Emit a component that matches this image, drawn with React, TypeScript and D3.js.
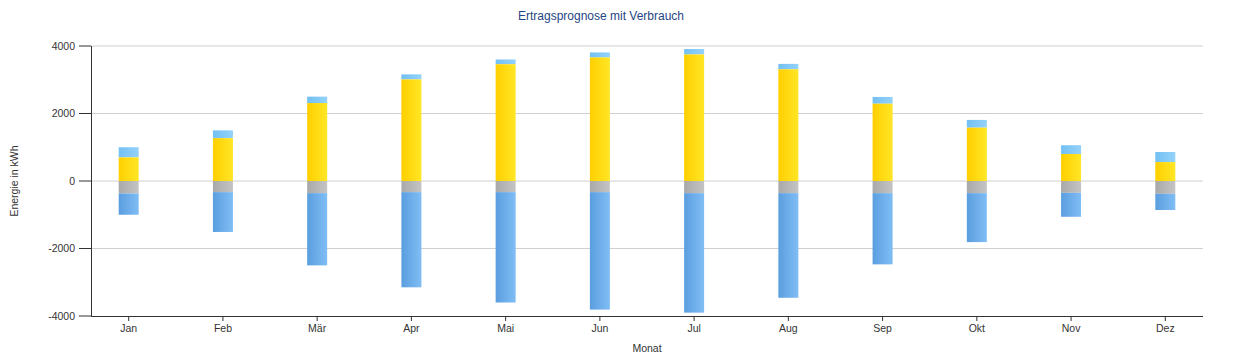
import React from 'react';
import * as d3 from 'd3';

const months = ['Jan', 'Feb', 'Mär', 'Apr', 'Mai', 'Jun', 'Jul', 'Aug', 'Sep', 'Okt', 'Nov', 'Dez'];
// positive stack: yellow part and total (yellow + light blue)
const yieldYellow = [700, 1270, 2310, 3010, 3460, 3660, 3750, 3310, 2290, 1580, 800, 560];
const yieldTotal = [1000, 1500, 2500, 3160, 3600, 3810, 3910, 3470, 2490, 1810, 1060, 860];
// negative stack: gray part and total (gray + blue)
const useGray = [370, 330, 360, 330, 330, 330, 360, 360, 360, 360, 350, 380];
const useTotal = [1000, 1510, 2500, 3150, 3600, 3810, 3900, 3460, 2470, 1810, 1060, 860];
const yTicks = [-4000, -2000, 0, 2000, 4000];

const W = 1241;
const H = 358;
const margin = { top: 46, right: 38, bottom: 42, left: 91 };
const FONT = '"Liberation Sans", Arial, sans-serif';

export default function App() {
  const innerW = W - margin.left - margin.right;
  const innerH = H - margin.top - margin.bottom;

  const x = d3.scalePoint<string>().domain(months).range([0, innerW]).padding(0.4);
  const y = d3.scaleLinear().domain([-4000, 4000]).range([innerH, 0]);
  const barW = 20;

  return (
    <svg width={W} height={H} style={{ position: 'absolute', left: 0, top: 0, background: '#fff' }} fontFamily={FONT}>
      <defs>
        <linearGradient id="gYellow" x1="0" y1="0" x2="1" y2="0">
          <stop offset="0%" stopColor="#ffcf00" />
          <stop offset="100%" stopColor="#ffe626" />
        </linearGradient>
        <linearGradient id="gLight" x1="0" y1="0" x2="1" y2="0">
          <stop offset="0%" stopColor="#72c0f2" />
          <stop offset="100%" stopColor="#94d2fb" />
        </linearGradient>
        <linearGradient id="gGray" x1="0" y1="0" x2="1" y2="0">
          <stop offset="0%" stopColor="#a9a9a9" />
          <stop offset="100%" stopColor="#c4c4c4" />
        </linearGradient>
        <linearGradient id="gBlue" x1="0" y1="0" x2="1" y2="0">
          <stop offset="0%" stopColor="#5a9edf" />
          <stop offset="100%" stopColor="#80bdf5" />
        </linearGradient>
      </defs>

      <text x={601} y={20} textAnchor="middle" fontSize={12} fill="#1f4585">Ertragsprognose mit Verbrauch</text>

      <g transform={`translate(${margin.left},${margin.top})`}>
        {/* grid + y axis */}
        {yTicks.map(t => (
          <g key={t}>
            {t !== -4000 && (
              <line x1={0} x2={innerW} y1={y(t)} y2={y(t)} stroke="#d0d0d0" strokeWidth={1} />
            )}
            <line x1={-12} x2={0} y1={y(t)} y2={y(t)} stroke="#333" strokeWidth={1} />
            <text x={-16} y={y(t)} dy="0.35em" textAnchor="end" fontSize={10.5} fill="#333">{t}</text>
          </g>
        ))}

        {/* bars */}
        {months.map((m, i) => {
          const cx = x(m) as number;
          const bx = cx - barW / 2;
          return (
            <g key={m}>
              <rect x={bx} y={y(yieldTotal[i])} width={barW} height={y(yieldYellow[i]) - y(yieldTotal[i])} fill="url(#gLight)" />
              <rect x={bx} y={y(yieldYellow[i])} width={barW} height={y(0) - y(yieldYellow[i])} fill="url(#gYellow)" />
              <rect x={bx} y={y(0)} width={barW} height={y(-useGray[i]) - y(0)} fill="url(#gGray)" />
              <rect x={bx} y={y(-useGray[i])} width={barW} height={y(-useTotal[i]) - y(-useGray[i])} fill="url(#gBlue)" />
            </g>
          );
        })}

        <line x1={0.5} x2={0.5} y1={0} y2={innerH} stroke="#333" strokeWidth={1} />
        <line x1={0} x2={innerW} y1={innerH + 0.5} y2={innerH + 0.5} stroke="#333" strokeWidth={1} />

        {months.map(m => (
          <g key={m} transform={`translate(${x(m)},${innerH})`}>
            <line y1={0} y2={5} stroke="#333" />
            <text y={16} textAnchor="middle" fontSize={10.5} fill="#333">{m}</text>
          </g>
        ))}

        <text x={x('Jun')! + (x('Jul')! - x('Jun')!) / 2} y={innerH + 36} textAnchor="middle" fontSize={10.5} fill="#333">Monat</text>
        <text transform={`translate(${-73},${innerH / 2}) rotate(-90)`} textAnchor="middle" fontSize={10.5} fill="#333">Energie in kWh</text>
      </g>
    </svg>
  );
}
